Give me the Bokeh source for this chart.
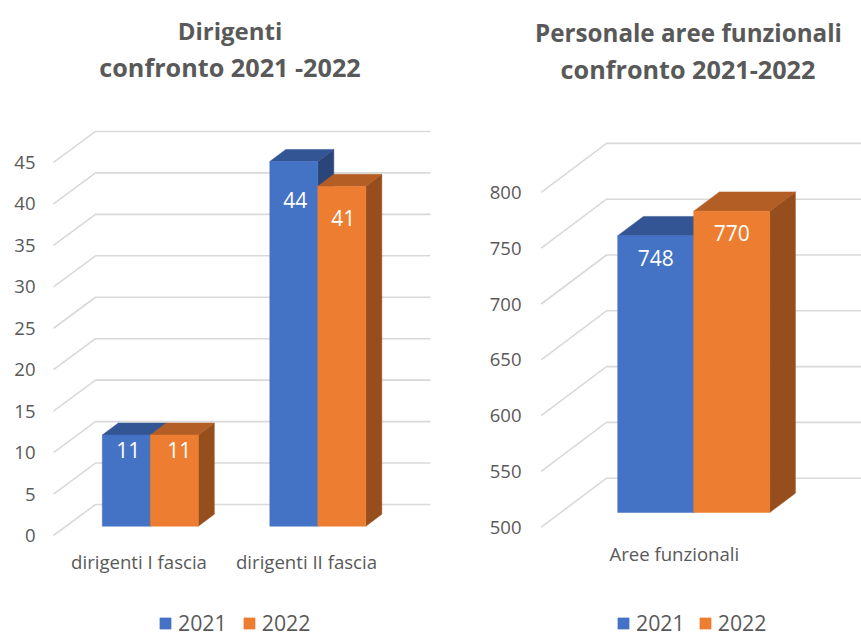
from bokeh.plotting import figure
from bokeh.layouts import row
from bokeh.models import Range1d, FixedTicker, Legend, LegendItem
from bokeh.core.properties import value
from bokeh.embed import file_html
from bokeh.resources import INLINE

series_names = ["2021", "2022"]
left_categories = ["dirigenti I fascia", "dirigenti II fascia"]
left_2021 = [11, 44]
left_2022 = [11, 41]
left_ticks = [0, 5, 10, 15, 20, 25, 30, 35, 40, 45]
left_title = ["Dirigenti", "confronto 2021 -2022"]

right_categories = ["Aree funzionali"]
right_2021 = [748]
right_2022 = [770]
right_ticks = [500, 550, 600, 650, 700, 750, 800]
right_title = ["Personale aree funzionali", "confronto 2021-2022"]

FONT = "Open Sans"
GREY = "#595959"
GRID = "#D9D9D9"
FRONT = ["#4472C4", "#ED7D31"]
TOP = ["#335593", "#B25E25"]
SIDE = ["#2A4679", "#964F1C"]


def chart(categories, vals, ticks, titles, g):
    """g holds layout constants in page pixels."""
    fl, fr = g["frame"]
    ft, fb = 0, 637
    fx = lambda px: (px - g["x0"]) / g["sx"]
    fy = lambda py: g["v0"] + (g["y0"] - py) / g["sy"]
    p = figure(width=int(g["fig_right"] - g["fig_left"]), height=637,
               x_range=Range1d(fx(fl), fx(fr)), y_range=Range1d(fy(fb), fy(ft)),
               output_backend="svg", toolbar_location=None,
               min_border_left=int(fl - g["fig_left"]), min_border_right=0,
               min_border_top=0, min_border_bottom=0)
    p.outline_line_color = None
    p.grid.visible = False

    # axes
    p.yaxis.ticker = FixedTicker(ticks=ticks)
    p.yaxis.major_label_text_font = FONT
    p.yaxis.major_label_text_font_size = g["tick_size"]
    p.yaxis.major_label_text_color = GREY
    p.yaxis.major_label_standoff = g["y_standoff"]
    p.xaxis.ticker = FixedTicker(ticks=list(range(len(categories))))
    p.xaxis.major_label_overrides = {i: c for i, c in enumerate(categories)}
    p.xaxis.major_label_text_font = FONT
    p.xaxis.major_label_text_font_size = g["cat_size"]
    p.xaxis.major_label_text_color = GREY
    p.xaxis.major_label_standoff = 0
    p.xaxis.fixed_location = fy(g["cat_top"])
    for ax in (p.xaxis, p.yaxis):
        ax.axis_line_color = None
        ax.major_tick_line_color = None
        ax.minor_tick_line_color = None
        ax.major_tick_out = 0
        ax.major_tick_in = 0
        ax.minor_tick_out = 0
        ax.minor_tick_in = 0

    # 3D walls: diagonal plus back line for every tick
    gdx, gdy = g["wall"]
    xs = [[fx(g["wall_x"]), fx(g["wall_x"] + gdx), fx(g["wall_end"])] for _ in ticks]
    ys = [[t, t + gdy / g["sy"], t + gdy / g["sy"]] for t in ticks]
    p.multi_line(xs, ys, line_color=GRID, line_width=1.6)

    # 3D bars
    w = g["bar_w"] / g["sx"]
    ddx, ddy = g["depth"][0] / g["sx"], g["depth"][1] / g["sy"]
    base = fy(g["bar_base"])
    lift = base - g["v0"]
    shift = g["shift"] / g["sx"]
    legend_items = []
    for j, (name, sv) in enumerate(zip(series_names, vals)):
        cx = [i + shift + (j - 0.5) * w for i in range(len(sv))]
        tops = [v + lift for v in sv]
        side_x = [[c + w / 2, c + w / 2 + ddx, c + w / 2 + ddx, c + w / 2] for c in cx]
        side_y = [[base, base + ddy, t + ddy, t] for t in tops]
        top_x = [[c - w / 2, c - w / 2 + ddx, c + w / 2 + ddx, c + w / 2] for c in cx]
        top_y = [[t, t + ddy, t + ddy, t] for t in tops]
        p.patches(side_x, side_y, fill_color=SIDE[j], line_color=SIDE[j], line_width=0.5)
        p.patches(top_x, top_y, fill_color=TOP[j], line_color=TOP[j], line_width=0.5)
        r = p.vbar(x=cx, width=w, bottom=base, top=tops, fill_color=FRONT[j],
                   line_color=FRONT[j], line_width=0.5)
        legend_items.append(LegendItem(label=name, renderers=[r]))

    # data labels
    for j, sv in enumerate(vals):
        cx = [i + shift + (j - 0.5) * w + g["lab_dx"][j][i] / g["sx"] for i in range(len(sv))]
        cy = [v + lift - g["lab_dy"][j][i] / g["sy"] for i, v in enumerate(sv)]
        p.text(cx, cy, text=[str(v) for v in sv], text_color="#FFFFFF",
               text_font=value(FONT), text_font_size=g["lab_size"],
               text_align="center", text_baseline="middle")

    # titles
    for line, (tx, ty), size in zip(titles, g["title_pos"], g["title_size"]):
        p.text([fx(tx)], [fy(ty)], text=[line], text_color=GREY,
               text_font=value(FONT), text_font_style="bold",
               text_font_size=size,
               text_align="center", text_baseline="middle")

    legend = Legend(items=legend_items, orientation="horizontal",
                    location=(g["leg_x"] - fl, fb - g["leg_bottom"]),
                    background_fill_alpha=0, border_line_color=None,
                    padding=0, margin=0, spacing=g["leg_spacing"],
                    glyph_width=14, glyph_height=14, label_standoff=6,
                    label_text_font=FONT, label_text_font_size=g["leg_size"],
                    label_text_color=GREY)
    p.add_layout(legend)
    return p


left = chart(left_categories, [left_2021, left_2022], left_ticks, left_title, dict(
    fig_left=0, fig_right=448, frame=(40, 448),
    x0=138.5, sx=167.5, y0=535.0, v0=0, sy=8.29,
    wall=(42, 31), wall_x=53, wall_end=430,
    bar_w=48, depth=(16, 12), bar_base=525.7, shift=11.3,
    lab_dx=[[2, 1.5], [5, 1.5]], lab_dy=[[15, 39], [15, 32]],
    tick_size="18.5px", cat_size="18.6px", lab_size="21px",
    title_size=["24px", "25.2px"], title_pos=[(229.5, 29.5), (229.5, 66)],
    y_standoff=5, cat_top=548,
    leg_x=158, leg_bottom=637, leg_spacing=15, leg_size="21.3px"))

right = chart(right_categories, [right_2021, right_2022], right_ticks, right_title, dict(
    fig_left=448, fig_right=861, frame=(526, 861),
    x0=673.8, sx=200.0, y0=526.7, v0=500, sy=1.116,
    wall=(65.3, 49), wall_x=540.7, wall_end=861,
    bar_w=76, depth=(25.7, 19.3), bar_base=512, shift=19.4,
    lab_dx=[[0], [0]], lab_dy=[[22, 22], [22]],
    tick_size="18.5px", cat_size="18.6px", lab_size="21px",
    title_size=["24.2px", "25.2px"], title_pos=[(688, 32), (687.5, 68.5)],
    y_standoff=5, cat_top=540,
    leg_x=616, leg_bottom=637, leg_spacing=13, leg_size="21.3px"))

page = row(left, right, spacing=0)
open("out.html", "w").write(file_html(page, INLINE))
